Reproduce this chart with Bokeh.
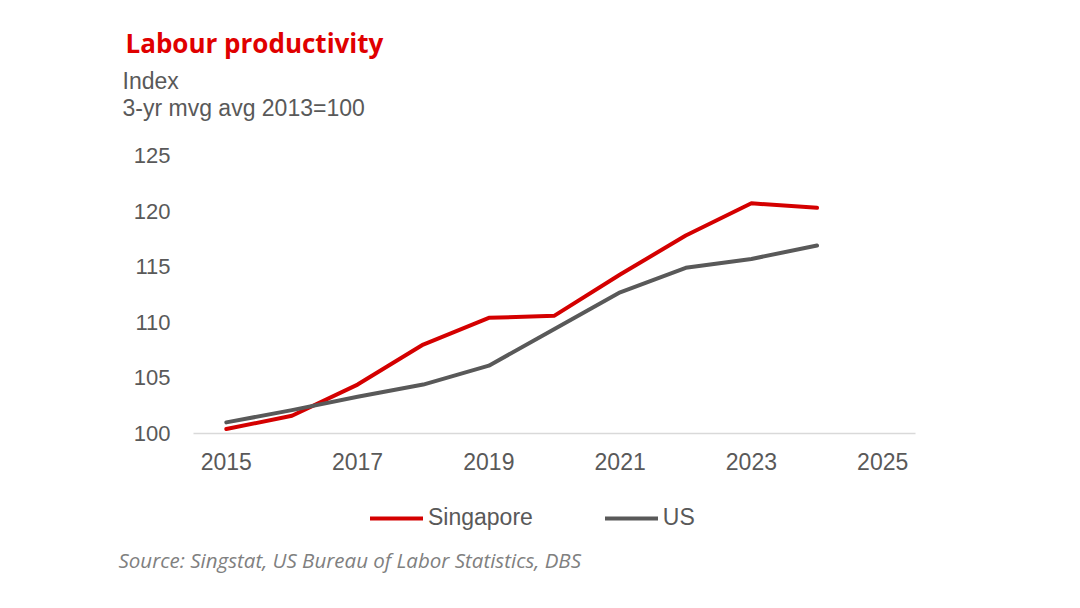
from bokeh.plotting import figure
from bokeh.layouts import column, row
from bokeh.models import Range1d, FixedTicker, Label, Legend, LegendItem
from bokeh.embed import file_html
from bokeh.resources import INLINE

years = [2015, 2016, 2017, 2018, 2019, 2020, 2021, 2022, 2023, 2024]
singapore = [100.4, 101.6, 104.4, 108.0, 110.4, 110.6, 114.3, 117.8, 120.7, 120.3]
us = [101.0, 102.1, 103.3, 104.4, 106.1, 109.4, 112.7, 114.9, 115.7, 116.9]
series_names = ["Singapore", "US"]
x_ticks = [2015, 2017, 2019, 2021, 2023, 2025]
y_ticks = [100, 105, 110, 115, 120, 125]

title_text = "Labour productivity"
subtitle1 = "Index"
subtitle2 = "3-yr mvg avg 2013=100"
source_text = "Source: Singstat, US Bureau of Labor Statistics, DBS"

RED = "#D40000"
GRAY = "#595959"

W = 1080
H_HEAD, H_MAIN, H_FOOT = 135, 345, 128
L, R = 193, 915
T_MAIN, B_MAIN = 155 - H_HEAD, 433 - H_HEAD  # frame top/bottom inside main figure
X0, X1 = 2014.5, 2025.5
Y0, Y1 = 100, 125
BASE_SHIFT = 7.5  # rendered baseline sits this many px below the anchor


def blank(height):
    f = figure(width=W, height=height, output_backend="svg", toolbar_location=None,
               x_range=Range1d(0, W), y_range=Range1d(0, height),
               x_axis_type=None, y_axis_type=None, min_border=0)
    f.outline_line_color = None
    f.background_fill_color = "white"
    f.border_fill_color = "white"
    f.grid.visible = False
    return f


# ---- header with title and subtitles ----
head = blank(H_HEAD)
head.add_layout(Label(x=125, y=H_HEAD - (50 - BASE_SHIFT), text=title_text, text_font="Open Sans",
                      text_font_style="bold", text_font_size="26px", text_color="#E00000",
                      text_baseline="alphabetic"))
head.add_layout(Label(x=122, y=H_HEAD - (88.3 - BASE_SHIFT), text=subtitle1, text_font="Liberation Sans",
                      text_font_size="23px", text_color=GRAY, text_baseline="alphabetic"))
head.add_layout(Label(x=122, y=H_HEAD - (114.5 - BASE_SHIFT), text=subtitle2, text_font="Liberation Sans",
                      text_font_size="23px", text_color=GRAY, text_baseline="alphabetic"))

# ---- main chart ----
p = figure(width=W, height=H_MAIN, output_backend="svg", toolbar_location=None,
           x_range=Range1d(X0, X1), y_range=Range1d(Y0, Y1),
           min_border_left=L, min_border_right=W - R,
           min_border_top=T_MAIN, min_border_bottom=H_MAIN - B_MAIN)
p.outline_line_color = None
p.xgrid.grid_line_color = None
p.ygrid.grid_line_color = None
p.background_fill_color = "white"
p.border_fill_color = "white"

p.line(years, singapore, line_color=RED, line_width=4, line_join="round", line_cap="round")
p.line(years, us, line_color=GRAY, line_width=4, line_join="round", line_cap="round")

xa = p.xaxis[0]
xa.ticker = FixedTicker(ticks=x_ticks)
xa.axis_line_color = "#D9D9D9"
xa.axis_line_width = 1.5
xa.major_tick_line_color = None
xa.minor_tick_line_color = None
xa.major_label_text_font = "Liberation Sans"
xa.major_label_text_font_size = "23px"
xa.major_label_text_color = GRAY
xa.major_label_standoff = 13

ya = p.yaxis[0]
ya.ticker = FixedTicker(ticks=y_ticks)
ya.axis_line_color = None
ya.major_tick_line_color = None
ya.minor_tick_line_color = None
ya.major_label_text_font = "Liberation Sans"
ya.major_label_text_font_size = "22px"
ya.major_label_text_color = GRAY
ya.major_label_standoff = 17

# ---- footer with legend and source ----
foot = blank(H_FOOT)
# same series drawn here (outside the footer's visible range) only to feed the legend
lg_sg = foot.line(years, singapore, line_color=RED, line_width=4, line_cap="round")
lg_us = foot.line(years, us, line_color=GRAY, line_width=4, line_cap="round")
legend = Legend(items=[LegendItem(label=series_names[0], renderers=[lg_sg]),
                       LegendItem(label=series_names[1], renderers=[lg_us])],
                orientation="horizontal", location=(370, H_FOOT - (531 - 480)),
                glyph_width=53, glyph_height=22, label_height=22, label_standoff=5,
                spacing=72, padding=0, margin=0, border_line_color=None,
                background_fill_alpha=0,
                label_text_font="Liberation Sans", label_text_font_size="23px",
                label_text_color=GRAY)
foot.add_layout(legend, "center")
foot.add_layout(Label(x=118, y=H_FOOT - (566.7 - BASE_SHIFT - 480), text=source_text,
                      text_font="Open Sans", text_font_style="italic", text_font_size="20.5px",
                      text_color="#808080", text_baseline="alphabetic"))

layout = column(row(head), p, row(foot), spacing=0)
open("out.html", "w").write(file_html(layout, INLINE))
